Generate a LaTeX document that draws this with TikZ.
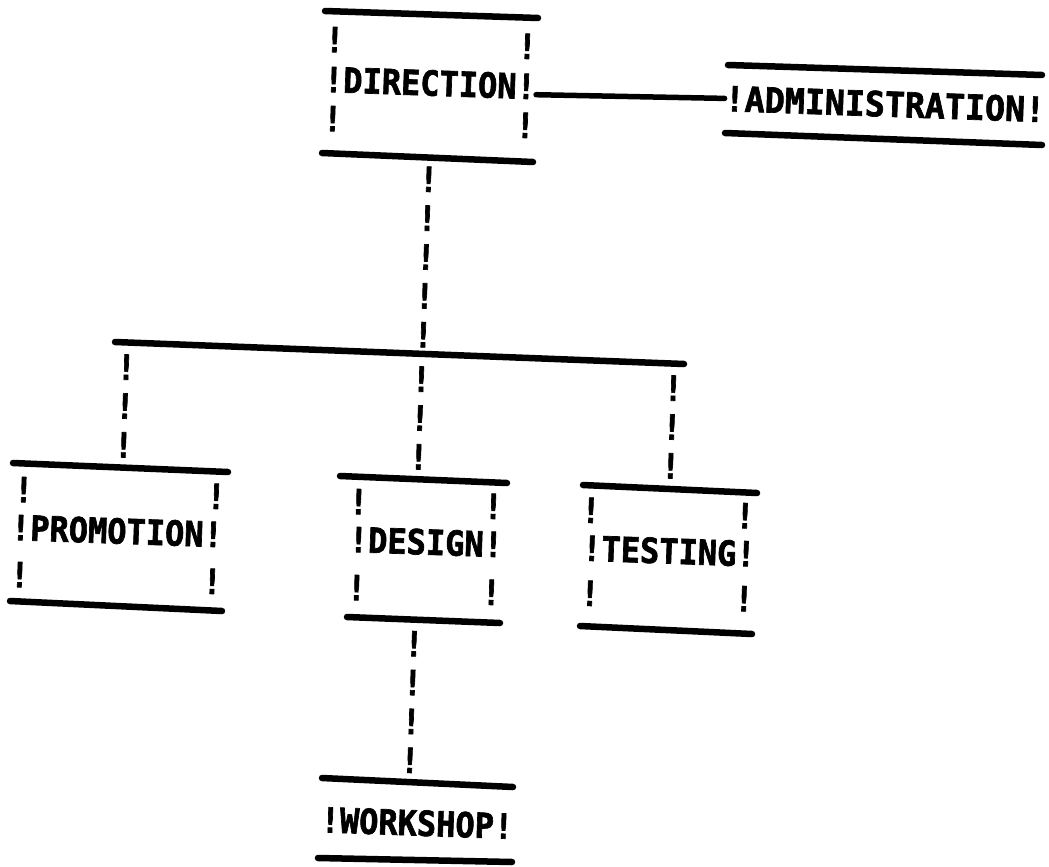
\documentclass[tikz,border=0pt]{standalone}
\usepackage{fontspec}
\newfontfamily\prtfont{DejaVu Sans Mono}[BoldFeatures={FakeBold=2}]
\begin{document}
\begin{tikzpicture}[x=1pt,y=-1pt,
  prt/.style={font=\prtfont\bfseries\fontsize{32}{36}\selectfont, inner sep=0pt, rotate=-2, yscale=1.08, align=center, text=black},
  rule/.style={line width=6.5pt, line cap=round, draw=black}]
\useasboundingbox (0,0) rectangle (1049,867);

% DIRECTION
\draw[rule] (325,11) -- (538,18);
\node[prt] (dirT) at (431,43) {!\phantom{DIRECTION}!};
\node[prt] (dir)  at (430,83) {!DIRECTION!};
\node[prt] (dirB) at (429,122) {!\phantom{DIRECTION}!};
\draw[rule] (322,153) -- (533,162);

% ADMINISTRATION
\draw[rule] (728,65) -- (1042,75);
\node[prt, xscale=1.04] (adm) at (885,104) {!ADMINISTRATION!};
\draw[rule] (725,133) -- (1042,145);
\draw[rule, line width=5.5pt] ([yshift=-8pt]dir.east) -- (adm.west);

% vertical from DIRECTION to bar
\node[prt] (v0) at (426,257) {!\\!\\!\\!\\!};

% bar
\coordinate (barL) at (115,342);
\coordinate (barR) at (684,364);
\draw[rule] (barL) -- (barR);

% branch columns
\node[prt] (v1) at (125,406) {!\\!\\!};
\node[prt] (v2) at (420,418) {!\\!\\!};
\node[prt] (v3) at (672,427) {!\\!\\!};

% PROMOTION
\draw[rule] (13,463) -- (228,472);
\node[prt] (proT) at (120,493) {!\phantom{PROMOTION}!};
\node[prt] (pro)  at (117,531) {!PROMOTION!};
\node[prt] (proB) at (116,578) {!\phantom{PROMOTION}!};
\draw[rule] (10,601) -- (222,611);

% DESIGN
\draw[rule] (340,476) -- (507,483);
\node[prt] (desT) at (426,504) {!\phantom{DESIGN}!};
\node[prt] (des)  at (426,542) {!DESIGN!};
\node[prt] (desB) at (424,590) {!\phantom{DESIGN}!};
\draw[rule] (347,617) -- (500,623);

% TESTING
\draw[rule] (583,485) -- (757,493);
\node[prt] (tesT) at (668,513) {!\phantom{TESTING}!};
\node[prt] (tes)  at (669,551) {!TESTING!};
\node[prt] (tesB) at (667,596) {!\phantom{TESTING}!};
\draw[rule] (580,626) -- (752,634);

% DESIGN to WORKSHOP
\node[prt] (v4) at (412,702) {!\\!\\!\\!};

% WORKSHOP
\draw[rule] (322,778) -- (513,787);
\node[prt] (wor) at (417,823) {!WORKSHOP!};
\draw[rule] (318,858) -- (512,862);
\end{tikzpicture}
\end{document}
